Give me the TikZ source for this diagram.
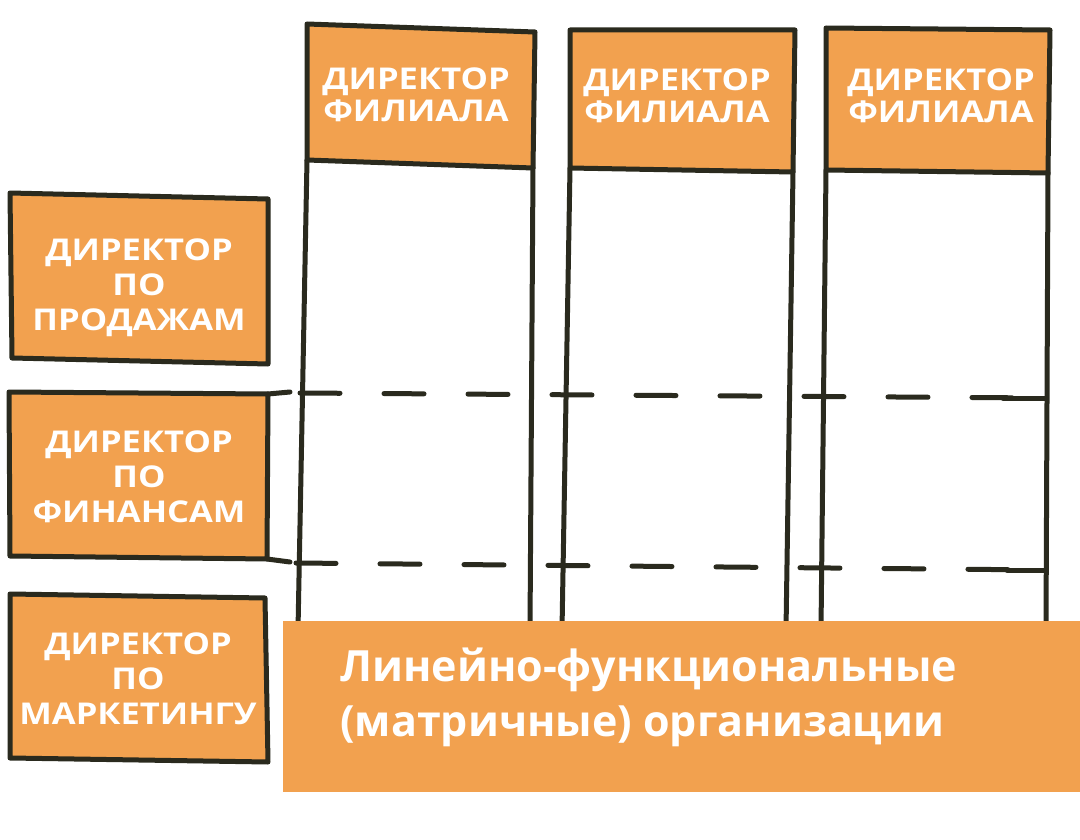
\documentclass[tikz,border=0pt]{standalone}
\usepackage{fontspec}
\newfontfamily\lblfont[FakeStretch=1.15]{Open Sans}
\newfontfamily\ttlfont{Open Sans}
\definecolor{orng}{HTML}{F2A14F}
\definecolor{ink}{HTML}{2A2A1E}
\tikzset{
  ln/.style={draw=ink, line width=5pt, line cap=round, line join=round},
  hdr/.style={ln, fill=orng},
  dsh/.style={draw=ink, line width=5pt, line cap=round, dash pattern=on 40pt off 44pt},
  lbl/.style={text=white, font=\lblfont\bfseries\fontsize{30}{32}\selectfont, align=center, inner sep=0pt},
  rlbl/.style={lbl, font=\lblfont\bfseries\fontsize{30}{35}\selectfont},
  ttl/.style={text=white, font=\ttlfont\bfseries\fontsize{43}{55}\selectfont, align=left, inner sep=0pt, anchor=north west}
}
\begin{document}
\begin{tikzpicture}[x=1pt,y=-1pt]
\useasboundingbox (0,0) rectangle (1080,840);
\fill[white] (0,0) rectangle (1080,840);
% columns
\foreach \n/\a/\b/\c/\d/\e/\f/\g/\h in {
  1/307/24/535/32/533/168/307/160,
  2/570/30/795/30/793/172/570/168,
  3/826/28/1050/30/1048/173/826/170}{
  \coordinate (c\n tl) at (\a,\b);
  \coordinate (c\n tr) at (\c,\d);
  \coordinate (c\n br) at (\e,\f);
  \coordinate (c\n bl) at (\g,\h);
  \path[hdr] (c\n tl) -- (c\n tr) -- (c\n br) -- (c\n bl) -- cycle;
}
\coordinate (c1lb) at (298,630); \coordinate (c1rb) at (530,630);
\coordinate (c2lb) at (562,630); \coordinate (c2rb) at (786,630);
\coordinate (c3lb) at (821,630); \coordinate (c3rb) at (1046,630);
\draw[ln] (c1bl) -- (c1lb); \draw[ln] (c1br) -- (c1rb);
\draw[ln] (c2bl) -- (c2lb); \draw[ln] (c2br) -- (c2rb);
\draw[ln] (c3bl) -- (c3lb); \draw[ln] (c3br) -- (c3rb);
% dashed grid lines
\coordinate (d1a) at (300,393); \coordinate (d1b) at (1045,398);
\coordinate (d2a) at (296,563); \coordinate (d2b) at (1045,570);
\coordinate (d1e) at (1003,398); \coordinate (d2e) at (1007,570);
\draw[dsh] (d1a) -- (d1b);
\draw[dsh] (d2a) -- (d2b);
\draw[ln] (d1e) -- (d1b);
\draw[ln] (d2e) -- (d2b);
% rows
\coordinate (r1a) at (10,193); \coordinate (r1b) at (268,199);
\coordinate (r1c) at (268,364); \coordinate (r1d) at (12,358);
\coordinate (r2a) at (9,392); \coordinate (r2b) at (268,394);
\coordinate (r2c) at (267,559); \coordinate (r2d) at (10,556);
\coordinate (r2e) at (290,392); \coordinate (r2f) at (290,562);
\coordinate (r3a) at (10,594); \coordinate (r3b) at (265,598);
\coordinate (r3c) at (268,762); \coordinate (r3d) at (10,758);
\path[hdr] (r1a) -- (r1b) -- (r1c) -- (r1d) -- cycle;
\path[hdr] (r2a) -- (r2b) -- (r2c) -- (r2d) -- cycle;
\draw[ln] (r2b) -- (r2e);
\draw[ln] (r2c) -- (r2f);
\path[hdr] (r3a) -- (r3b) -- (r3c) -- (r3d) -- cycle;
% header labels
\node[lbl] (h1) at (416,95) {ДИРЕКТОР\\ФИЛИАЛА};
\node[lbl] (h2) at (677,96) {ДИРЕКТОР\\ФИЛИАЛА};
\node[lbl] (h3) at (941,96) {ДИРЕКТОР\\ФИЛИАЛА};
% row labels
\node[rlbl] (s1) at (139,288) {ДИРЕКТОР\\ПО\\ПРОДАЖАМ};
\node[rlbl] (s2) at (139,477) {ДИРЕКТОР\\ПО\\ФИНАНСАМ};
\node[rlbl] (s3) at (138,679) {ДИРЕКТОР\\ПО\\МАРКЕТИНГУ};
% title box
\fill[orng] (283,621) rectangle (1080,792);
\node[ttl] (t) at (340,648) {Линейно-функциональные\\(матричные) организации};
\end{tikzpicture}
\end{document}
